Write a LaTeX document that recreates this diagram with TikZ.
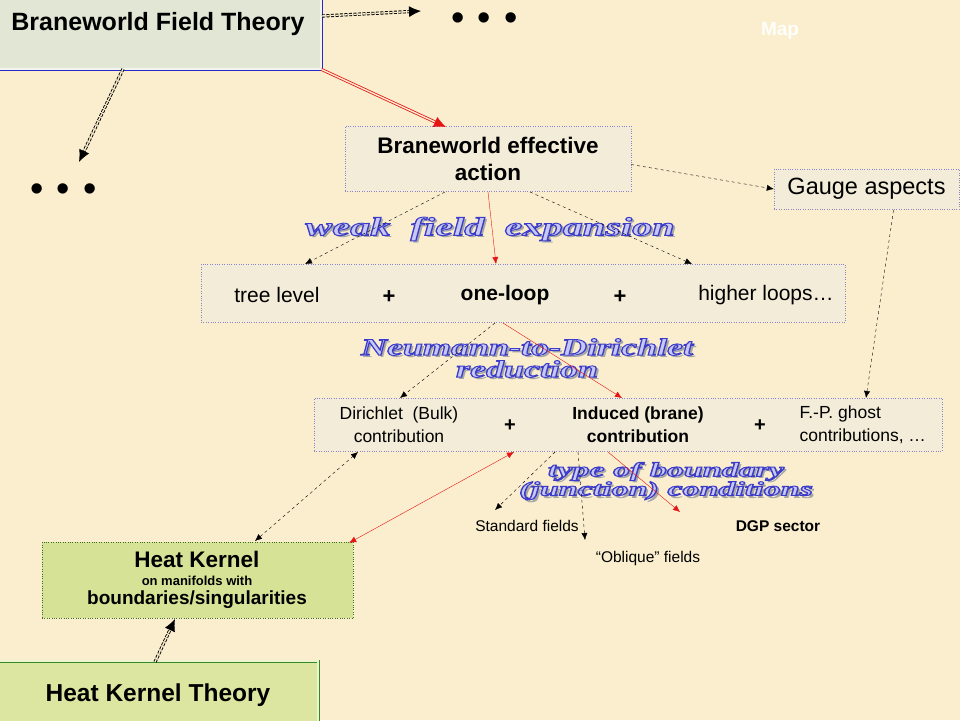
\documentclass[tikz,border=0pt]{standalone}
\usepackage{fontspec}
\setmainfont{Liberation Sans}
\newfontfamily\fancyfont{Liberation Serif}
\usetikzlibrary{arrows.meta}
\definecolor{bgc}{RGB}{250,238,206}
\definecolor{boxgray}{RGB}{226,230,212}
\definecolor{boxlight}{RGB}{242,236,216}
\definecolor{hkgreen}{RGB}{214,226,150}
\definecolor{hktgreen}{RGB}{220,230,160}
\definecolor{bordblue}{RGB}{40,40,200}
\definecolor{dotpurple}{RGB}{140,130,200}
\definecolor{dotgreen}{RGB}{60,110,40}
\definecolor{hktborder}{RGB}{50,140,40}
\definecolor{fancyblue}{RGB}{60,60,200}
\definecolor{fancyfill}{RGB}{200,200,245}
\definecolor{arrred}{RGB}{230,20,20}
\tikzset{
  x=1pt,y=-1pt,
  tip/.style={-{Latex[length=7pt,width=6pt]}},
  dblarr/.style={-{Latex[length=12pt,width=11pt]}},
  lightbox/.style={draw=dotpurple,dotted,fill=boxlight,inner sep=0pt},
  blk/.style={draw=black,dashed,thin,tip},
  redl/.style={draw=arrred,thin,tip},
  dbldash/.style={draw=black,double=bgc,double distance=1.4pt,line width=0.9pt,dash pattern=on 3pt off 1.5pt,dblarr},
  fancybase/.style={align=center,inner sep=0pt},
}
% outlined text: fill colour fancyfill, stroke fancyblue (PDF text render mode 2)
\newcommand\myoutl[1]{\special{pdf:literal direct 2 Tr 0.9 w 0.235 0.235 0.784 RG}#1\special{pdf:literal direct 0 Tr}}
% one line of decorative text, widened
\newcommand\myfl[2]{\scalebox{#1}[1]{\myoutl{#2}}}
\newcommand\mysl[2]{\scalebox{#1}[1]{#2}}
\newcommand\fancylbl[6]{% x, y, name, font, shadow text, outlined text
  \node[fancybase,font={#4},text=black!35] at (#1+2.5,#2+2.5) {#5};
  \node[fancybase,font={#4},text=fancyfill] (#3) at (#1,#2) {#6};}
\begin{document}
\begin{tikzpicture}
\useasboundingbox (0,0) rectangle (960,720);
\fill[bgc] (0,0) rectangle (960,720);
% Map title
\node[text=white!92!bgc,font=\bfseries\fontsize{19}{19}\selectfont] (map) at (780,31) {Map};
% Braneworld Field Theory box
\node[draw=bordblue,line width=0.8pt,double=boxgray!40!white,double distance=1.4pt,fill=boxgray,minimum width=331,minimum height=80,inner sep=0pt] (bft) at (155.5,29) {};
\node[font=\bfseries\fontsize{25}{25}\selectfont] (bftt) at (158,24) {Braneworld Field Theory};
% dots
\node[font=\fontsize{38}{38}\selectfont] (dots1) at (484.5,22) {\textbullet\hspace{13pt}\textbullet\hspace{13pt}\textbullet};
\node[font=\fontsize{38}{38}\selectfont] (dots2) at (63.5,193) {\textbullet\hspace{13pt}\textbullet\hspace{13pt}\textbullet};
\coordinate (d1) at (421,11);
\coordinate (d2) at (79,162);
\draw[dbldash] (322,16) -- (d1);
\draw[dbldash] (123,69) -- (d2);
% Braneworld effective action
\node[lightbox,minimum width=286,minimum height=65,align=center,font=\bfseries\fontsize{22.5}{27}\selectfont] (bea) at (488,158.5) {Braneworld effective\\action};
\draw[draw=arrred,double=bgc,double distance=1.4pt,line width=0.8pt,dblarr] (bft.south east) -- (446,127);
% Gauge aspects
\node[lightbox,minimum width=185,minimum height=40,font=\fontsize{23.5}{23.5}\selectfont] (gauge) at (866.5,189) {Gauge aspects};
\draw[blk] (bea.east) ++(0,6) -- (gauge.west);
% weak field expansion
\fancylbl{490}{229}{wfe}{\fancyfont\bfseries\itshape\fontsize{26}{26}\selectfont}{\mysl{1.55}{weak\ \ field\ \ expansion}}{\myfl{1.55}{weak\ \ field\ \ expansion}}
% row 1
\node[lightbox,minimum width=644,minimum height=58] (row1) at (523,293) {};
\node[font=\fontsize{21}{21}\selectfont] (tree) at (277,295) {tree level};
\node[font=\bfseries\fontsize{22}{22}\selectfont] (p1) at (389,297) {+};
\node[font=\bfseries\fontsize{21}{21}\selectfont] (oneloop) at (505,295) {one-loop};
\node[font=\bfseries\fontsize{22}{22}\selectfont] (p2) at (620,297) {+};
\node[font=\fontsize{21}{21}\selectfont] (higher) at (766,295) {higher loops\ldots};
\draw[blk] (445,192) -- (305,264);
\draw[redl] (488,192) -- (496,264);
\draw[blk] (530,192) -- (692,264);
% Neumann-to-Dirichlet
\fancylbl{527}{358}{ntd}{\fancyfont\bfseries\itshape\fontsize{24}{22}\selectfont}{\mysl{1.5}{Neumann-to-Dirichlet}\\\mysl{1.5}{reduction}}{\myfl{1.5}{Neumann-to-Dirichlet}\\\myfl{1.5}{reduction}}
% row 2
\node[lightbox,minimum width=628,minimum height=53] (row2) at (628,424.5) {};
\node[align=center,font=\fontsize{17.5}{23}\selectfont] (dir) at (399,425) {Dirichlet\ \ (Bulk)\\contribution};
\node[font=\bfseries\fontsize{20}{20}\selectfont] (p3) at (510,426) {+};
\node[align=center,font=\bfseries\fontsize{17.5}{23}\selectfont] (ind) at (638,425) {Induced (brane)\\contribution};
\node[font=\bfseries\fontsize{20}{20}\selectfont] (p4) at (760,426) {+};
\node[align=left,font=\fontsize{17.5}{23}\selectfont,anchor=west] (fp) at (796,425) {F.-P. ghost\\contributions, \ldots};
\draw[blk] (495,323) -- (400,398);
\draw[redl] (503,323) -- (622,398);
\draw[blk] (gauge.south) ++(27,1) -- (866,398);
% type of boundary
\fancylbl{666}{481}{tob}{\fancyfont\bfseries\itshape\fontsize{20}{18}\selectfont}{\mysl{1.7}{type of boundary}\\\mysl{1.7}{(junction) conditions}}{\myfl{1.7}{type of boundary}\\\myfl{1.7}{(junction) conditions}}
% leaves
\node[font=\fontsize{15.5}{15.5}\selectfont] (std) at (527,526) {Standard fields};
\node[font=\fontsize{15.5}{15.5}\selectfont] (obl) at (648,558) {``Oblique'' fields};
\node[font=\bfseries\fontsize{15.5}{15.5}\selectfont] (dgp) at (778,526) {DGP sector};
\draw[blk] (555,452) -- (495,510);
\draw[blk] (578,452) -- (585,540);
\draw[redl] (608,452) -- (680,512);
% Heat kernel box
\node[draw=dotgreen,dotted,fill=hkgreen,minimum width=311,minimum height=76,inner sep=0pt] (hk) at (197.5,580) {};
\node[font=\bfseries\fontsize{22.5}{22.5}\selectfont] (hk1) at (197,559) {Heat Kernel};
\node[font=\bfseries\fontsize{13}{13}\selectfont] (hk2) at (197,581) {on manifolds with};
\node[font=\bfseries\fontsize{19}{19}\selectfont] (hk3) at (197,600) {boundaries/singularities};
\draw[draw=arrred,thin,{Latex[length=7pt,width=6pt]}-{Latex[length=7pt,width=6pt]}] (hk.north east) ++(-4,1) -- (514,452);
\draw[draw=black,dashed,thin,{Latex[length=7pt,width=6pt]}-{Latex[length=7pt,width=6pt]}] (255,541) -- (358,452);
% Heat kernel theory box
\node[draw=hktborder,line width=0.8pt,double=hktgreen!50!white,double distance=1.4pt,fill=hktgreen,minimum width=328,minimum height=72,inner sep=0pt] (hkt) at (154,697) {};
\node[font=\bfseries\fontsize{24.5}{24.5}\selectfont] (hktt) at (158,695) {Heat Kernel\ Theory};
\draw[dbldash] (155,662) -- (175,619);
\end{tikzpicture}
\end{document}
